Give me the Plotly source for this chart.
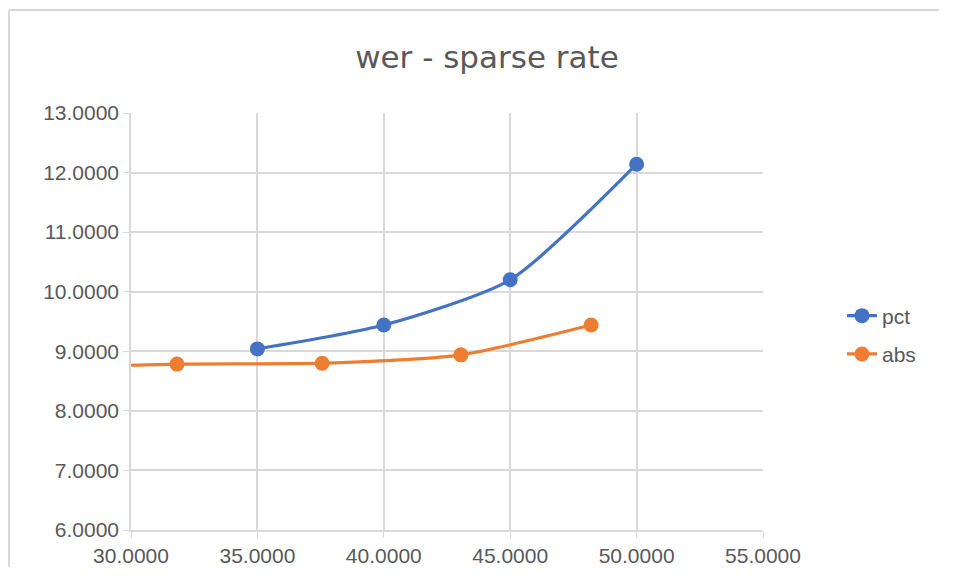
import plotly.graph_objects as go

# data
pct_x = [35.0, 40.0, 45.0, 50.0]
pct_y = [9.04, 9.44, 10.20, 12.14]
abs_x = [26.5, 31.82, 37.56, 43.05, 48.2]
abs_y = [8.72, 8.785, 8.80, 8.94, 9.44]
x_ticks = [30, 35, 40, 45, 50, 55]
y_ticks = [6, 7, 8, 9, 10, 11, 12, 13]

OFF = 8  # page body margin
W, H = 951, 560
L, R, T, B = 131 - OFF, 763 - OFF, 113 - OFF, 530 - OFF

fig = go.Figure()
fig.add_trace(go.Scatter(x=pct_x, y=pct_y, name="pct", mode="lines+markers",
                         line=dict(color="#4472C4", width=3.2, shape="spline", smoothing=0.65),
                         marker=dict(size=15, color="#4472C4"), legendgroup="a"))
fig.add_trace(go.Scatter(x=abs_x, y=abs_y, name="abs", mode="lines+markers",
                         line=dict(color="#ED7D31", width=3.2, shape="spline", smoothing=0.65),
                         marker=dict(size=15, color="#ED7D31"), legendgroup="b"))

grid = "#d9d9d9"
tickfont = dict(family="Liberation Sans, Arial, sans-serif", size=21, color="#595959")
fig.update_xaxes(range=[30, 55], tickvals=x_ticks, tickformat=".4f", showgrid=True,
                 gridcolor=grid, gridwidth=1.5, showline=True, linecolor=grid, linewidth=1.5,
                 ticks="outside", ticklen=6, tickcolor=grid, tickfont=tickfont, zeroline=False,
                 fixedrange=True, automargin=False)
fig.update_yaxes(range=[6, 13], tickvals=y_ticks, tickformat=".4f", showgrid=True,
                 gridcolor=grid, gridwidth=1.5, showline=True, linecolor=grid, linewidth=1.5,
                 ticks="outside", ticklen=6, tickcolor=grid, tickfont=tickfont, zeroline=False,
                 fixedrange=True, automargin=False)

pw, ph = R - L, B - T
bx = (1 - L) / pw
by = 1 + (T - 2) / ph
by_end = -(H - B - 1) / ph
fig.add_shape(type="line", xref="paper", yref="paper", x0=bx, x1=bx, y0=by_end, y1=by,
              line=dict(color="#d9d9d9", width=2), layer="below")
fig.add_shape(type="line", xref="paper", yref="paper", x0=bx, x1=(W - 20 - L) / pw, y0=by, y1=by,
              line=dict(color="#d9d9d9", width=2), layer="below")

fig.update_layout(
    width=W, height=H,
    margin=dict(l=L, r=W - R, t=T, b=H - B, autoexpand=False),
    paper_bgcolor="white", plot_bgcolor="white",
    title=dict(text="wer - sparse rate", x=(487 - OFF) / W, xanchor="center", xref="container",
               y=1 - (57 - OFF) / H, yanchor="middle", yref="container",
               font=dict(family="DejaVu Sans, sans-serif", size=31, color="#595959")),
    legend=dict(x=(842 - OFF - L) / pw, xanchor="left", y=(B - (335 - OFF)) / ph, yanchor="middle",
                font=dict(family="Liberation Sans, Arial, sans-serif", size=21, color="#595959"),
                tracegroupgap=8, bgcolor="rgba(0,0,0,0)"),
    showlegend=True,
)

fig.write_html("out.html")
